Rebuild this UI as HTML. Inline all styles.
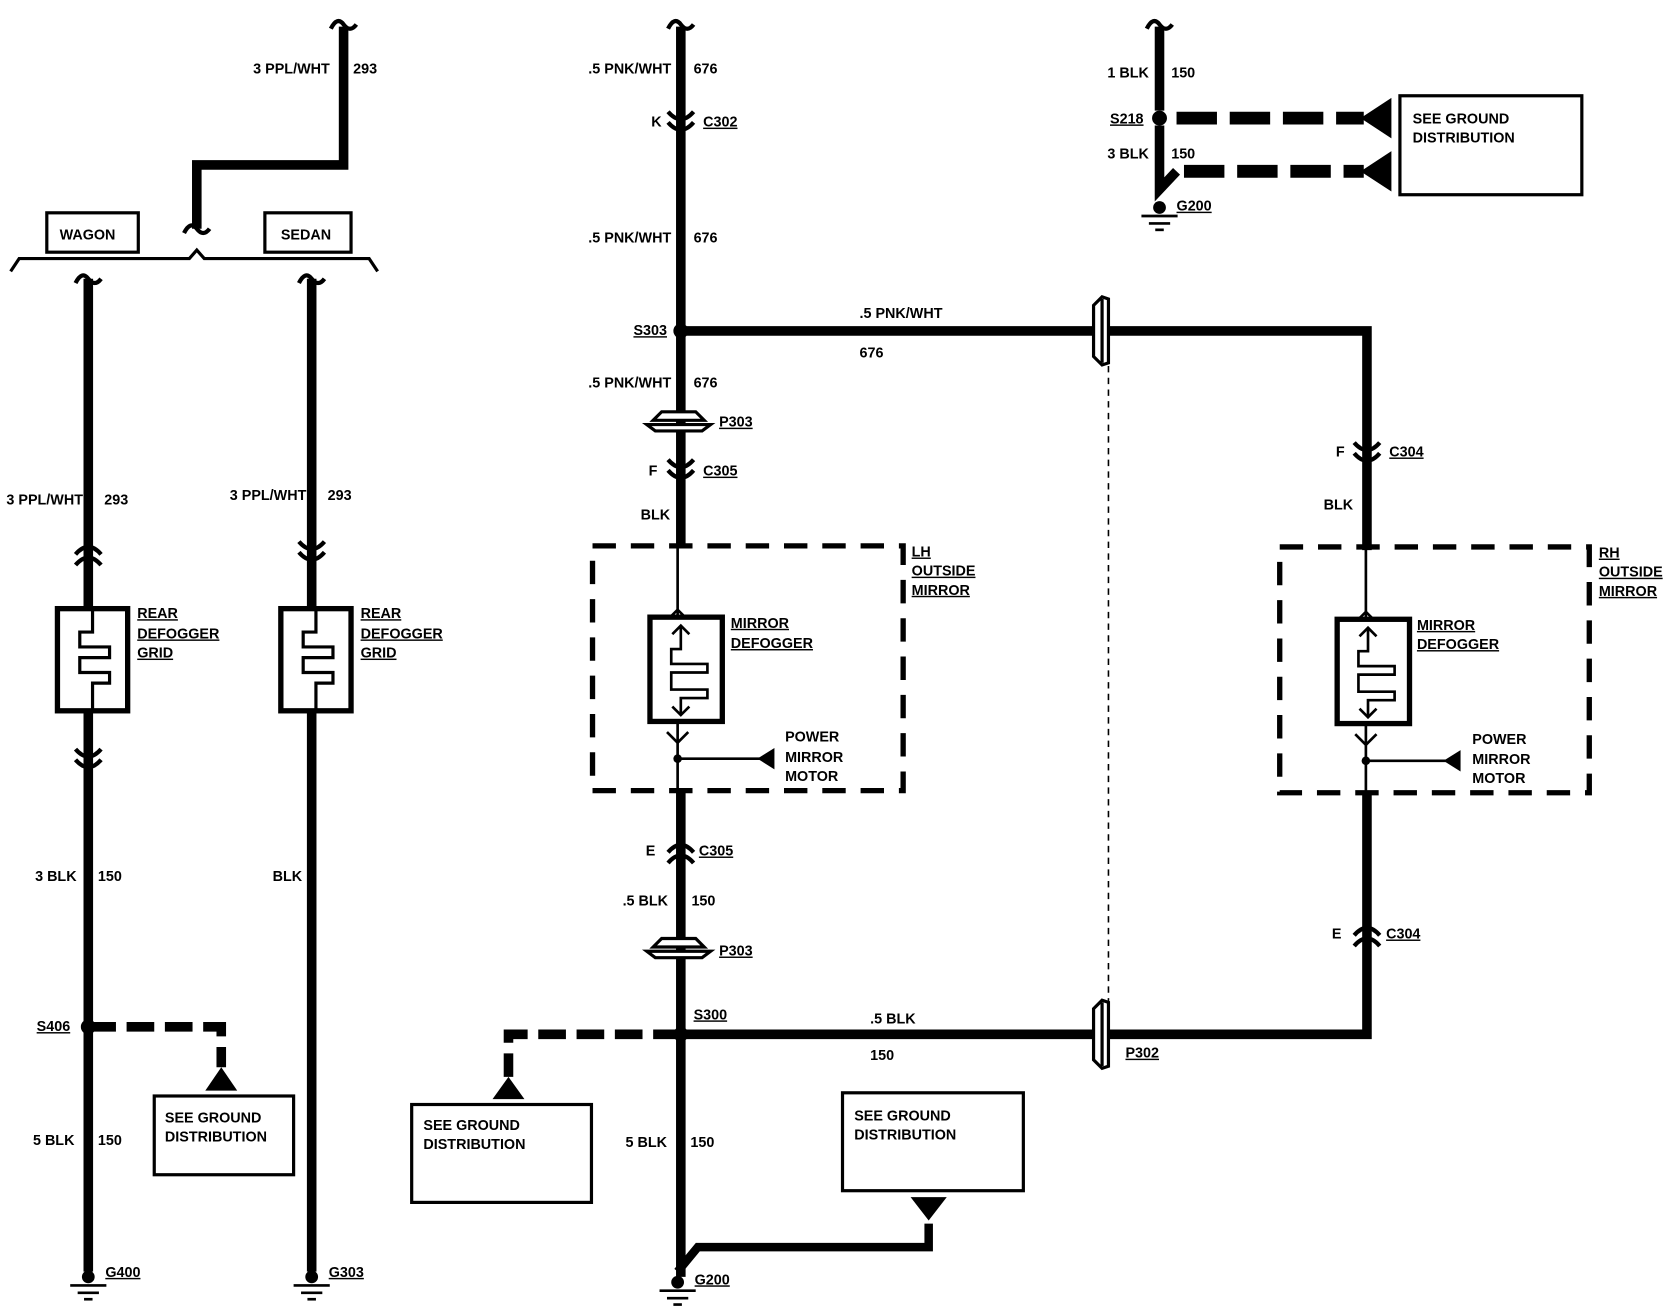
<!DOCTYPE html>
<html><head><meta charset="utf-8"><style>
html,body{margin:0;padding:0;background:#fff;}
svg{display:block;}
text{font-family:"Liberation Sans",sans-serif;font-weight:bold;font-size:13.5px;fill:#000;}
.u{text-decoration:underline;}
</style></head><body>
<svg width="1668" height="1312" viewBox="0 0 1568 1233" preserveAspectRatio="none" xmlns="http://www.w3.org/2000/svg">
<defs>
<g id="cf"><path d="M-12,-11 Q0,3 12,-11" fill="none" stroke="#000" stroke-width="4"/><path d="M-12,-1 Q0,13 12,-1" fill="none" stroke="#000" stroke-width="4"/></g>
<g id="cu"><path d="M-12,1 Q0,-13 12,1" fill="none" stroke="#000" stroke-width="4"/><path d="M-12,11 Q0,-3 12,11" fill="none" stroke="#000" stroke-width="4"/></g>
<g id="sq"><path d="M-12,4 Q-6,-8 0,0 Q6,8 12,0" fill="none" stroke="#000" stroke-width="4"/></g>
<g id="gnd"><circle cx="0" cy="0" r="6"/><line x1="-17" y1="8" x2="17" y2="8" stroke="#000" stroke-width="2.5"/><line x1="-10" y1="15" x2="10" y2="15" stroke="#000" stroke-width="2.5"/><line x1="-4" y1="21" x2="4" y2="21" stroke="#000" stroke-width="2.5"/></g>
<g id="p3"><path d="M-24,0 L-16,-8 L16,-8 L24,0 Z" fill="#fff" stroke="#000" stroke-width="3"/><path d="M-30,4 L30,4 L22,10 L-22,10 Z" fill="#fff" stroke="#000" stroke-width="3"/></g>
<g id="pv"><path d="M-8,-24 L0,-32 L6,-30 L6,30 L0,32 L-8,24 Z" fill="#fff" stroke="#000" stroke-width="3"/><line x1="0" y1="-30" x2="0" y2="30" stroke="#000" stroke-width="3"/></g>
<g id="grid"><rect x="-33" y="0" width="66" height="96" fill="#fff" stroke="#000" stroke-width="5"/><path d="M0,0 V22 H-12 V36 H16 V46 H-12 V60 H16 V70 H0 V96" fill="none" stroke="#000" stroke-width="3"/></g>
<g id="mdef"><rect x="-29" y="0" width="68" height="98" fill="#fff" stroke="#000" stroke-width="5"/><path d="M0,8 V30 H-9 V44 H25 V52 H-9 V68 H25 V76 H0 V92" fill="none" stroke="#000" stroke-width="2.5"/><path d="M-8,16 L0,8 L8,16 M-8,84 L0,92 L8,84" fill="none" stroke="#000" stroke-width="2.5"/></g>
</defs>
<g stroke="#000" fill="none">
<path d="M323,25 V155 H185 V215" stroke-width="9"/>
<path d="M10,255 L18,243 H178 L185,235 L192,243 H347 L355,255" stroke-width="3"/>
<rect x="44" y="200" width="86" height="37" stroke-width="3"/>
<rect x="249" y="200" width="81" height="37" stroke-width="3"/>
<line x1="83" y1="262" x2="83" y2="1195" stroke-width="9"/>
<line x1="293" y1="262" x2="293" y2="1195" stroke-width="9"/>
<path d="M83,965 H208 V1003" stroke-width="9" stroke-dasharray="26,10"/>
<rect x="145" y="1030" width="131" height="74" stroke-width="3"/>
<line x1="640" y1="25" x2="640" y2="515" stroke-width="9"/>
<line x1="640" y1="743" x2="640" y2="1200" stroke-width="9"/>
<path d="M640,311 H1285 V517" stroke-width="9"/>
<path d="M1285,745 V972 H640" stroke-width="9"/>
<line x1="1042" y1="311" x2="1042" y2="972" stroke-width="1.5" stroke-dasharray="6,5"/>
<path d="M640,972 H478 V1012" stroke-width="9" stroke-dasharray="26,10"/>
<rect x="387" y="1038" width="169" height="92" stroke-width="3"/>
<path d="M637,1195 L656,1172 H873 V1150" stroke-width="8"/>
<rect x="792" y="1027" width="170" height="92" stroke-width="3"/>
<rect x="557" y="513" width="292" height="230" stroke-width="5" stroke-dasharray="22,14"/>
<line x1="637" y1="513" x2="637" y2="745" stroke-width="2.5"/>
<path d="M627,583 L637,573 L647,583 M627,688 L637,698 L647,688" stroke-width="2.5"/>
<line x1="637" y1="713" x2="715" y2="713" stroke-width="2.5"/>
<rect x="1203" y="514" width="291" height="231" stroke-width="5" stroke-dasharray="22,14"/>
<line x1="1284" y1="514" x2="1284" y2="745" stroke-width="2.5"/>
<path d="M1274,585 L1284,575 L1294,585 M1274,690 L1284,700 L1294,690" stroke-width="2.5"/>
<line x1="1284" y1="715" x2="1360" y2="715" stroke-width="2.5"/>
<path d="M1090,25 V104 M1090,118 V178 L1106,161" stroke-width="9"/>
<path d="M1106,111 H1282 M1113,161 H1282" stroke-width="12" stroke-dasharray="38,12"/>
<rect x="1316" y="90" width="171" height="93" stroke-width="3"/>
</g>
<g fill="#000">
<use href="#sq" x="323" y="23"/><use href="#sq" x="185" y="215"/>
<use href="#sq" x="83" y="262"/><use href="#sq" x="293" y="262"/>
<use href="#sq" x="640" y="23"/><use href="#sq" x="1090" y="23"/>
<use href="#cu" x="83" y="520"/><use href="#cf" x="293" y="520"/><use href="#cf" x="83" y="715"/>
<use href="#grid" x="87" y="572"/><use href="#grid" x="297" y="572"/>
<use href="#cf" x="640" y="116"/><use href="#cf" x="640" y="443"/><use href="#cu" x="640" y="800"/>
<use href="#p3" x="638" y="395"/><use href="#p3" x="638" y="890"/>
<use href="#cf" x="1285" y="427"/><use href="#cu" x="1285" y="878"/>
<use href="#mdef" x="640" y="580"/><use href="#mdef" x="1286" y="582"/>
<use href="#pv" x="1036" y="311"/><use href="#pv" x="1036" y="972"/>
<circle cx="83" cy="965" r="7"/><circle cx="640" cy="311" r="7"/><circle cx="640" cy="972" r="7"/><circle cx="1090" cy="111" r="7"/>
<circle cx="637" cy="713" r="4"/><circle cx="1284" cy="715" r="4"/>
<polygon points="208,1003 193,1025 223,1025"/><polygon points="478,1012 463,1033 493,1033"/><polygon points="873,1147 856,1125 890,1125"/>
<polygon points="712,713 728,703 728,723"/><polygon points="1357,715 1373,705 1373,725"/>
<polygon points="1279,111 1308,92 1308,130"/><polygon points="1279,161 1308,142 1308,180"/>
<use href="#gnd" x="83" y="1200"/><use href="#gnd" x="293" y="1200"/><use href="#gnd" x="637" y="1205"/><use href="#gnd" x="1090" y="195"/>
</g>
<g>
<text x="310" y="69" text-anchor="end">3 PPL/WHT</text><text x="332" y="69">293</text>
<text x="56" y="225">WAGON</text><text x="264" y="225">SEDAN</text>
<text x="78" y="474" text-anchor="end">3 PPL/WHT</text><text x="98" y="474">293</text>
<text x="288" y="470" text-anchor="end">3 PPL/WHT</text><text x="308" y="470">293</text>
<text x="129" y="581" class="u">REAR</text><text x="129" y="600" class="u">DEFOGGER</text><text x="129" y="618" class="u">GRID</text>
<text x="339" y="581" class="u">REAR</text><text x="339" y="600" class="u">DEFOGGER</text><text x="339" y="618" class="u">GRID</text>
<text x="72" y="828" text-anchor="end">3 BLK</text><text x="92" y="828">150</text>
<text x="284" y="828" text-anchor="end">BLK</text>
<text x="66" y="969" text-anchor="end" class="u">S406</text>
<text x="155" y="1055">SEE GROUND</text><text x="155" y="1073">DISTRIBUTION</text>
<text x="70" y="1076" text-anchor="end">5 BLK</text><text x="92" y="1076">150</text>
<text x="99" y="1200" class="u">G400</text><text x="309" y="1200" class="u">G303</text>
<text x="631" y="69" text-anchor="end">.5 PNK/WHT</text><text x="652" y="69">676</text>
<text x="622" y="119" text-anchor="end">K</text><text x="661" y="119" class="u">C302</text>
<text x="631" y="228" text-anchor="end">.5 PNK/WHT</text><text x="652" y="228">676</text>
<text x="627" y="315" text-anchor="end" class="u">S303</text>
<text x="808" y="299">.5 PNK/WHT</text><text x="808" y="336">676</text>
<text x="631" y="364" text-anchor="end">.5 PNK/WHT</text><text x="652" y="364">676</text>
<text x="676" y="401" class="u">P303</text>
<text x="618" y="447" text-anchor="end">F</text><text x="661" y="447" class="u">C305</text>
<text x="630" y="488" text-anchor="end">BLK</text>
<text x="857" y="523" class="u">LH</text><text x="857" y="541" class="u">OUTSIDE</text><text x="857" y="559" class="u">MIRROR</text>
<text x="687" y="590" class="u">MIRROR</text><text x="687" y="609" class="u">DEFOGGER</text>
<text x="738" y="697">POWER</text><text x="738" y="716">MIRROR</text><text x="738" y="734">MOTOR</text>
<text x="616" y="804" text-anchor="end">E</text><text x="657" y="804" class="u">C305</text>
<text x="628" y="851" text-anchor="end">.5 BLK</text><text x="650" y="851">150</text>
<text x="676" y="898" class="u">P303</text>
<text x="652" y="958" class="u">S300</text>
<text x="818" y="962">.5 BLK</text><text x="818" y="996">150</text>
<text x="1058" y="994" class="u">P302</text>
<text x="398" y="1062">SEE GROUND</text><text x="398" y="1080">DISTRIBUTION</text>
<text x="803" y="1053">SEE GROUND</text><text x="803" y="1071">DISTRIBUTION</text>
<text x="627" y="1078" text-anchor="end">5 BLK</text><text x="649" y="1078">150</text>
<text x="653" y="1207" class="u">G200</text>
<text x="1264" y="429" text-anchor="end">F</text><text x="1306" y="429" class="u">C304</text>
<text x="1272" y="479" text-anchor="end">BLK</text>
<text x="1503" y="524" class="u">RH</text><text x="1503" y="542" class="u">OUTSIDE</text><text x="1503" y="560" class="u">MIRROR</text>
<text x="1332" y="592" class="u">MIRROR</text><text x="1332" y="610" class="u">DEFOGGER</text>
<text x="1384" y="699">POWER</text><text x="1384" y="718">MIRROR</text><text x="1384" y="736">MOTOR</text>
<text x="1261" y="882" text-anchor="end">E</text><text x="1303" y="882" class="u">C304</text>
<text x="1080" y="73" text-anchor="end">1 BLK</text><text x="1101" y="73">150</text>
<text x="1075" y="116" text-anchor="end" class="u">S218</text>
<text x="1080" y="149" text-anchor="end">3 BLK</text><text x="1101" y="149">150</text>
<text x="1106" y="198" class="u">G200</text>
<text x="1328" y="116">SEE GROUND</text><text x="1328" y="134">DISTRIBUTION</text>
</g>
</svg>
</body></html>
